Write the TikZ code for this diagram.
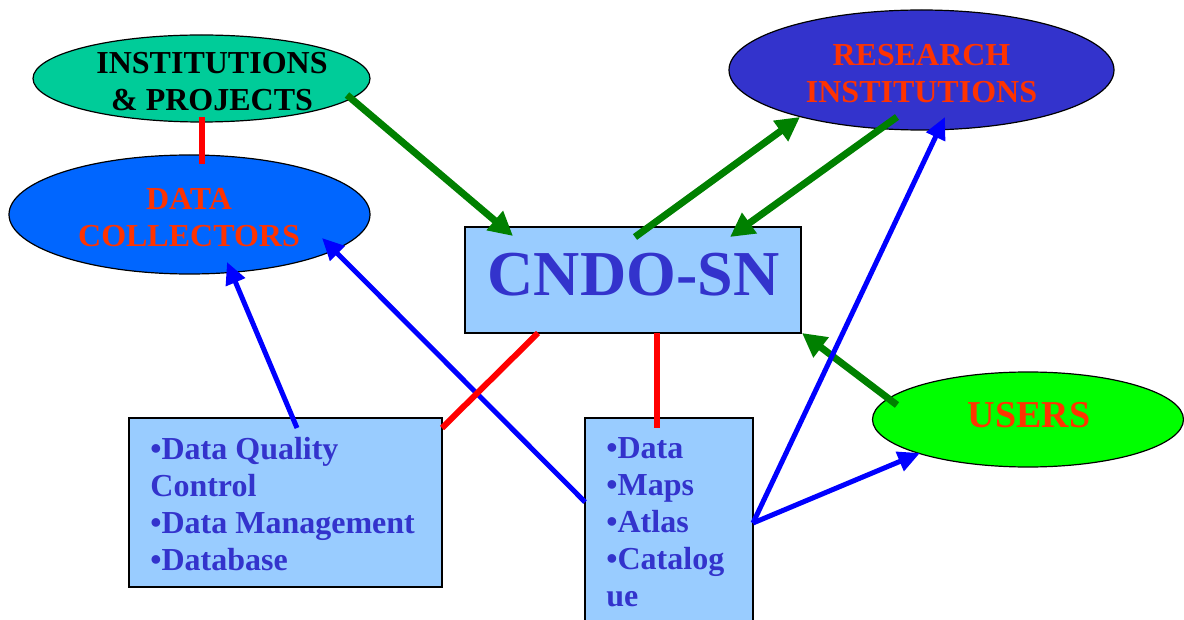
\documentclass[tikz,border=0pt]{standalone}
\usepackage{fontspec}
\setmainfont{Liberation Serif}
\usetikzlibrary{arrows.meta,shapes.geometric}
\definecolor{instfill}{RGB}{0,204,153}
\definecolor{dcfill}{RGB}{0,102,255}
\definecolor{rifill}{RGB}{51,51,204}
\definecolor{usersfill}{RGB}{0,255,0}
\definecolor{boxfill}{RGB}{153,204,255}
\definecolor{txtblue}{RGB}{51,51,204}
\definecolor{txtred}{RGB}{255,51,0}
\definecolor{arrgreen}{RGB}{0,128,0}
\definecolor{arrblue}{RGB}{0,0,255}
\definecolor{linred}{RGB}{255,0,0}
\tikzset{
  oval/.style={ellipse,draw=black,line width=0.6pt,inner sep=0pt},
  boxnode/.style={rectangle,draw=black,line width=1pt,fill=boxfill,inner sep=0pt},
  lbl/.style={inner sep=0pt,font=\bfseries\fontsize{16}{18.5}\selectfont,align=center},
  listtxt/.style={inner sep=0pt,font=\bfseries\fontsize{16}{18.5}\selectfont,align=left,text=txtblue,anchor=north west},
  garrow/.style={draw=arrgreen,line width=3.5pt,-{Triangle[length=12pt,width=12pt]}},
  barrow/.style={draw=arrblue,line width=2.5pt,-{Triangle[length=11pt,width=10pt]}},
  rline/.style={draw=linred,line width=3pt},
}
\begin{document}
\begin{tikzpicture}[x=0.5pt,y=-0.5pt]
\useasboundingbox (0,0) rectangle (1184,620);
\clip (0,0) rectangle (1184,620);
% shapes
\node[oval,fill=instfill,minimum width=168.5pt,minimum height=43.5pt] (inst) at (201.5,78.5) {};
\node[lbl,anchor=north,text=black] (instlbl) at (212,52) {INSTITUTIONS\\\& PROJECTS};
\node[oval,fill=dcfill,minimum width=180.5pt,minimum height=59.5pt] (dc) at (189.5,214.5) {};
\node[lbl,anchor=north,text=txtred] (dclbl) at (189,188) {DATA\\COLLECTORS};
\node[oval,fill=rifill,minimum width=192.5pt,minimum height=60pt] (ri) at (921.5,70) {};
\node[lbl,anchor=north,text=txtred] (rilbl) at (921.5,44) {RESEARCH\\INSTITUTIONS};
\node[oval,fill=usersfill,minimum width=155.5pt,minimum height=47.5pt] (users) at (1028,419.5) {};
\node[lbl,anchor=north,text=txtred,font=\bfseries\fontsize{19}{22}\selectfont] (userslbl) at (1029,402) {USERS};
\node[boxnode,minimum width=168pt,minimum height=53pt] (cndo) at (633,280) {};
\node[lbl,anchor=north,text=txtblue,font=\bfseries\fontsize{32}{36}\selectfont] (cndolbl) at (633.5,253) {CNDO-SN};
\node[boxnode,minimum width=156.5pt,minimum height=84.5pt] (lbox) at (285.5,502.5) {};
\node[listtxt] (lboxtxt) at (150,437) {•Data Quality\\Control\\•Data Management\\•Database};
\node[boxnode,minimum width=84pt,minimum height=106pt] (rbox) at (669,524) {};
\node[listtxt] (rboxtxt) at (606,437) {•Data\\•Maps\\•Atlas\\•Catalog\\ue};
% connector end points
\coordinate (inst-out) at (347,95);
\coordinate (cndo-in1) at (513,236);
\coordinate (cndo-out) at (635,237);
\coordinate (ri-in1) at (800,117);
\coordinate (ri-out) at (897,117);
\coordinate (cndo-in2) at (730,237);
\coordinate (users-out) at (897,405);
\coordinate (cndo-in3) at (802,333);
\coordinate (lbox-out) at (297,428);
\coordinate (dc-in1) at (227,262);
\coordinate (rbox-out1) at (585,502);
\coordinate (dc-in2) at (322,238);
\coordinate (rbox-out2) at (753,523);
\coordinate (ri-in2) at (945,117);
\coordinate (users-in) at (920,453);
\coordinate (cndo-r1) at (538,333);
\coordinate (lbox-r) at (442,428);
\coordinate (cndo-r2) at (657,333);
\coordinate (rbox-r) at (657,428);
\coordinate (inst-r) at (202,117);
\coordinate (dc-r) at (202,164);
% green arrows
\draw[garrow] (inst-out) -- (cndo-in1);
\draw[garrow] (cndo-out) -- (ri-in1);
\draw[garrow] (ri-out) -- (cndo-in2);
\draw[garrow] (users-out) -- (cndo-in3);
% blue arrows
\draw[barrow] (lbox-out) -- (dc-in1);
\draw[barrow] (rbox-out1) -- (dc-in2);
\draw[barrow] (rbox-out2) -- (ri-in2);
\draw[barrow] (rbox-out2) -- (users-in);
% red lines
\draw[rline] (cndo-r1) -- (lbox-r);
\draw[rline] (cndo-r2) -- (rbox-r);
\draw[rline] (inst-r) -- (dc-r);
\end{tikzpicture}
\end{document}
